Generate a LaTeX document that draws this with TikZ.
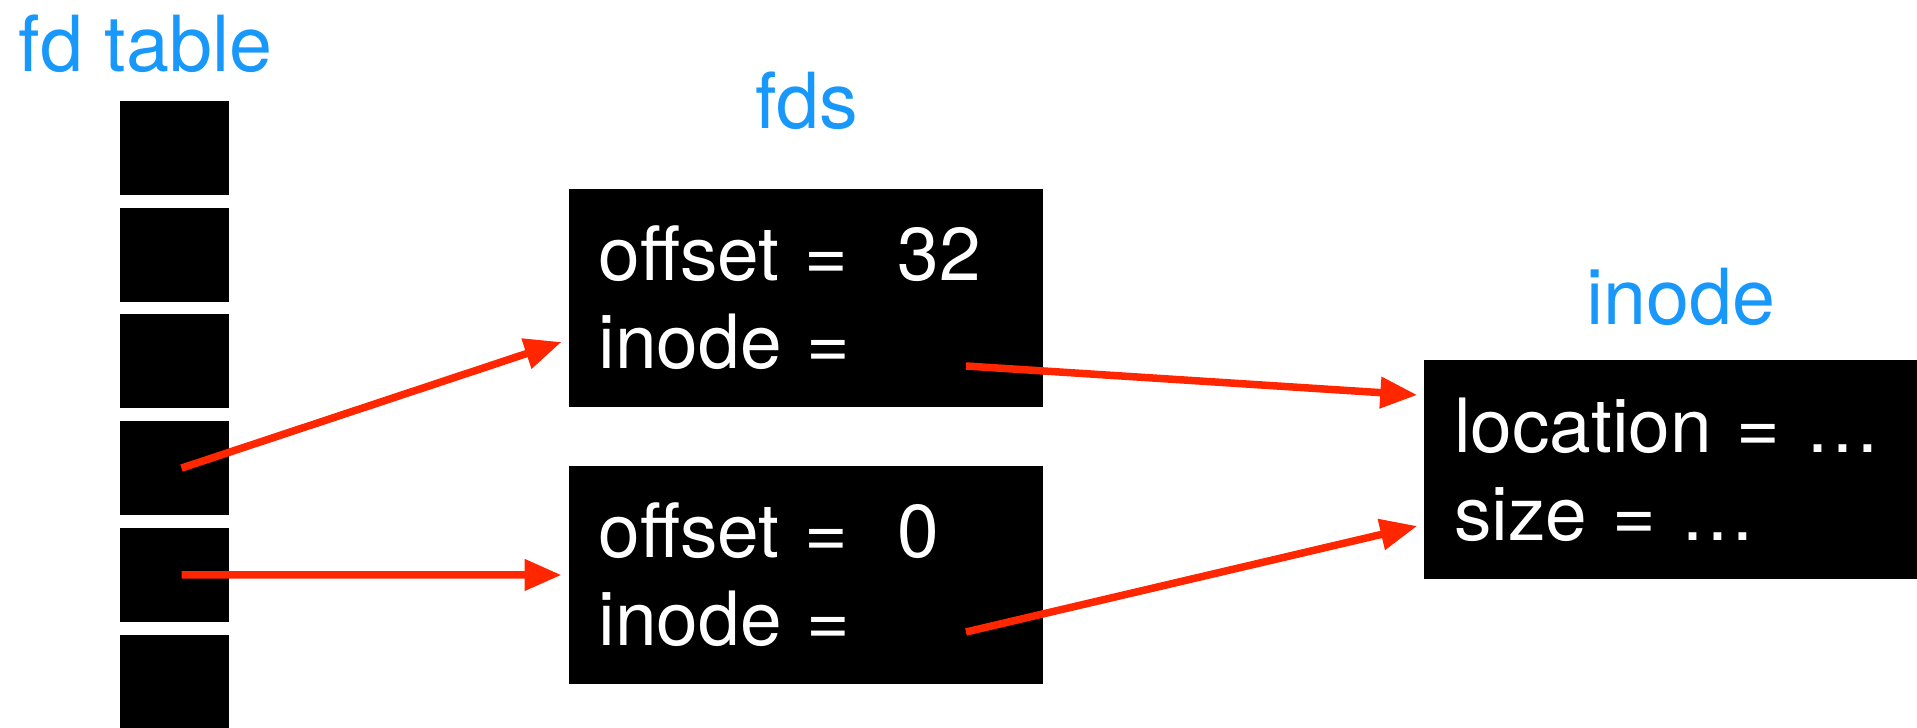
\documentclass[tikz,border=0pt]{standalone}
\usepackage{fontspec}
\setmainfont{TeX Gyre Heros}
\usetikzlibrary{arrows.meta}
\definecolor{fdblue}{RGB}{24,152,250}
\definecolor{ptrred}{RGB}{255,38,0}
\tikzset{
  slot/.style={fill=black, minimum width=1.09cm, minimum height=0.94cm, inner sep=0pt},
  rec/.style={fill=black, text=white, align=left, inner xsep=0.3cm, inner ysep=0pt,
    minimum height=2.18cm, font=\fontsize{21.3}{25}\selectfont},
  tag/.style={text=fdblue, inner sep=0pt, font=\fontsize{22}{26}\selectfont},
  ptr/.style={draw=ptrred, line width=0.075cm, -{Triangle[length=0.37cm,width=0.3cm]}}
}
\begin{document}
\begin{tikzpicture}
	\useasboundingbox (0,0) rectangle (19.17,-7.28);
	% fd table
	\node[tag, anchor=base west] (fdlbl) at (0.18,-0.72) {fd table};
	\foreach \i in {1,...,6}
		\node[slot] (s\i) at (1.745,{-1.48-1.067*(\i-1)}) {};
	% open files
	\node[tag, anchor=base] (fdslbl) at (8.07,-1.29) {fds};
	\node[rec, text width=4.145cm] (fa) at (8.06,-2.98) {offset = \ 32\\inode =};
	\node[rec, text width=4.145cm] (fb) at (8.06,-5.75) {offset = \ 0\\inode =};
	% inode
	\node[tag, anchor=base] (inlbl) at (16.81,-3.25) {inode};
	\node[rec, text width=4.54cm] (in) at (16.81,-4.695) {location = …\\size = …};
	% pointers
	\coordinate (fa-ptr) at ([shift={(1.6,-0.68)}]fa.center);
	\coordinate (fb-ptr) at ([shift={(1.6,-0.57)}]fb.center);
	\draw[ptr] ([xshift=0.07cm]s4.center) -- ([shift={(-0.065,-0.44)}]fa.west);
	\draw[ptr] ([xshift=0.07cm]s5.center) -- ([xshift=-0.065cm]fb.west);
	\draw[ptr] (fa-ptr) -- ([shift={(-0.06,0.745)}]in.west);
	\draw[ptr] (fb-ptr) -- ([shift={(-0.06,-0.565)}]in.west);
\end{tikzpicture}
\end{document}
